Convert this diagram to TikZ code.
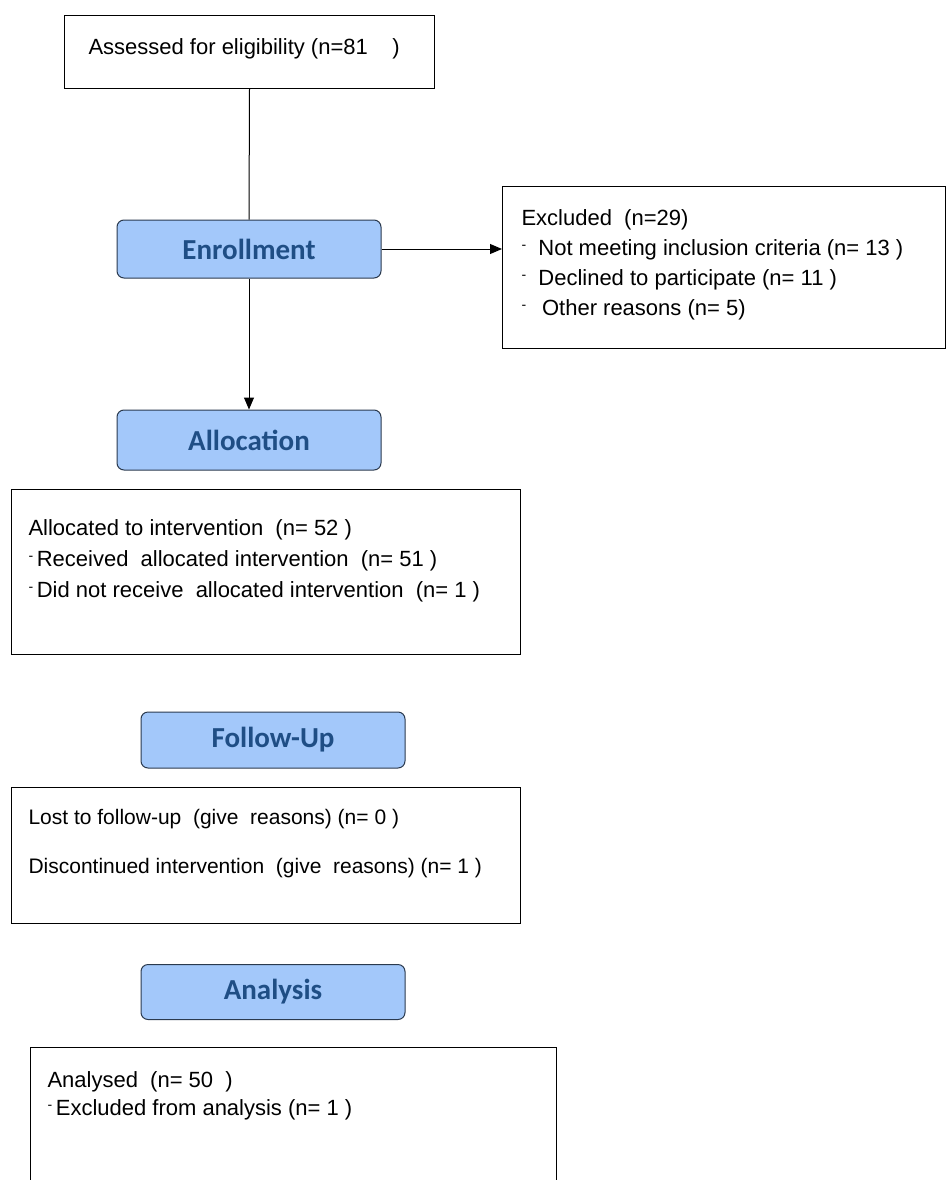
\documentclass[tikz,border=0pt]{standalone}
\usepackage{fontspec}
\setmainfont{Liberation Sans}
\newfontfamily\stagefont{Carlito}
\usetikzlibrary{positioning,arrows.meta}
\definecolor{stagefill}{HTML}{A3C8FA}
\definecolor{stagetext}{HTML}{1F4E85}
\definecolor{stageline}{HTML}{2B3A4E}
\newcommand{\dsh}{\raisebox{.5ex}{\fontsize{14}{14}\selectfont -}}

\begin{document}
\begin{tikzpicture}[x=1pt, y=-1pt, line width=1pt,
    frame/.style = {draw, anchor=north west, inner sep=0pt},
    stage/.style = {draw=stageline, fill=stagefill, rounded corners=7pt, minimum width=264pt,
                    font=\stagefont\bfseries\fontsize{29}{29}\selectfont, text=stagetext},
    txt/.style = {anchor=north west, align=left, inner sep=0pt, font=\fontsize{22}{30}\selectfont}]
    \useasboundingbox (0,0) rectangle (946,1180);

    % boxes
    \node[frame, minimum width=370pt, minimum height=73pt] (assess) at (64,15) {};
    \node[frame, minimum width=443pt, minimum height=162pt] (excl) at (502,186) {};
    \node[frame, minimum width=509pt, minimum height=165pt] (allocbox) at (11,489) {};
    \node[frame, minimum width=509pt, minimum height=136pt] (followbox) at (11,787) {};
    \node[frame, minimum width=526pt, minimum height=150pt] (analysedbox) at (30,1047) {};

    % stages
    \node[stage, minimum height=58pt] (enroll) at (249,249) {Enrollment};
    \node[stage, minimum height=60pt] (alloc) at (249,440) {Allocation};
    \node[stage, minimum height=56pt] (follow) at (273,740) {Follow-Up};
    \node[stage, minimum height=55pt] (analysis) at (273,992) {Analysis};

    % texts
    \node[txt] (assesstxt) at (88,38) {Assessed for eligibility (n=81\ \ \ \ )};
    \node[txt] (excltxt) at (521,209) {Excluded\ \ (n=29)\\
        \dsh\ \ Not meeting inclusion criteria (n= 13 )\\
        \dsh\ \ Declined to participate (n= 11\ )\\
        \dsh\ \ \,Other reasons (n= 5)};
    \node[txt, font=\fontsize{22}{31}\selectfont] (alloctxt) at (28,519) {Allocated to intervention\ \ (n= 52\ )\\
        \dsh\,Received\ \ allocated intervention\ \ (n= 51 )\\
        \dsh\,Did not receive\ \ allocated intervention\ \ (n= 1 )};
    \node[txt, font=\fontsize{21}{49}\selectfont] (followtxt) at (28,809) {Lost to follow-up\ \ (give\ \ reasons) (n= 0 )\\
        Discontinued intervention\ \ (give\ \ reasons) (n= 1 )};
    \node[txt, font=\fontsize{22}{28}\selectfont] (analysedtxt) at (47,1071) {Analysed\ \ (n= 50\ \ )\\
        \dsh\,Excluded from analysis (n= 1 )};

    % connectors
    \draw (assess.south) -- (enroll.north);
    \draw[-{Triangle[length=12pt,width=10pt]}] (enroll) -- (alloc);
    \draw[-{Triangle[length=12pt,width=10pt]}] (enroll) -- (enroll -| excl.west);
\end{tikzpicture}
\end{document}
